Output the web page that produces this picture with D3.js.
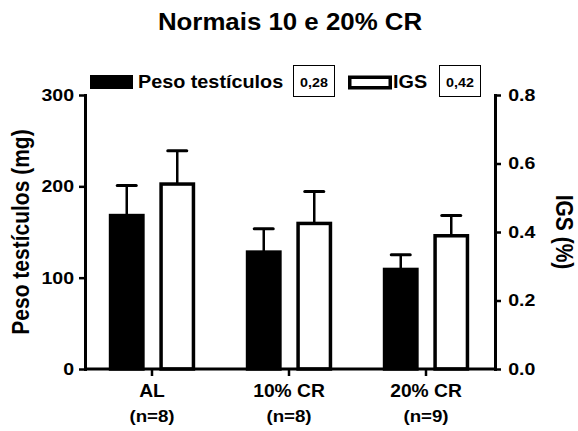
<!DOCTYPE html>
<html>
<head>
<meta charset="utf-8">
<script src="https://cdn.jsdelivr.net/npm/d3@7/dist/d3.min.js"></script>
<style>
  html, body { margin: 0; padding: 0; background: #fff; }
  svg { display: block; }
  text { font-family: "Liberation Sans", Arial, Helvetica, sans-serif; font-weight: bold; fill: #000; }
</style>
</head>
<body>
<script>
// Group data
const categories = ["AL", "10% CR", "20% CR"];
const sampleSizes = ["(n=8)", "(n=8)", "(n=9)"];
const pesoMean = [168, 128, 109];      // mg
const pesoSem = [33, 25.5, 16];
const igsMean = [0.54, 0.425, 0.389];  // %
const igsSem = [0.097, 0.093, 0.059];
const seriesNames = ["Peso testículos", "IGS"];
const seriesBoxes = ["0,28", "0,42"];
const leftTicks = [0, 100, 200, 300];
const rightTicks = [0, 0.2, 0.4, 0.6, 0.8];

const W = 578, H = 431;
const SX = 1.1; // glyphs are drawn slightly wide

const svg = d3.select("body").append("svg").attr("width", W).attr("height", H);

const plot = { left: 85, right: 495, top: 95, bottom: 369 };

const x0 = d3.scaleBand().domain(categories).range([83.5, 494.5]);
const x1 = d3.scaleBand().domain(["peso", "igs"]).range([-48, 48]).paddingInner(0.3).paddingOuter(0.1);
const yL = d3.scaleLinear().domain([0, 300]).range([plot.bottom, plot.top]);
const yR = d3.scaleLinear().domain([0, 0.8]).range([plot.bottom, plot.top]);

// Text helper with horizontal widening
function label(g, str, x, y, size, anchor, rot) {
  return g.append("text")
    .attr("transform", `translate(${x},${y}) scale(${SX},1)` + (rot ? ` rotate(${rot})` : ""))
    .attr("text-anchor", anchor || "middle")
    .style("font-size", size + "px")
    .text(str);
}

// Title
label(svg, "Normais 10 e 20% CR", 290, 30, 23.5, "middle");

// Bars
const rows = categories.map((c, i) => ({
  cat: c,
  bars: [
    { key: "peso", v: pesoMean[i], e: pesoSem[i], y: yL, fill: "#000" },
    { key: "igs", v: igsMean[i], e: igsSem[i], y: yR, fill: "#fff" }
  ]
}));

const bw = x1.bandwidth();
const groups = svg.append("g").selectAll("g").data(rows).join("g")
  .attr("transform", d => `translate(${x0(d.cat) + x0.bandwidth() / 2},0)`);

// error bars (upper only)
groups.selectAll("line.err").data(d => d.bars).join("line")
  .attr("class", "err")
  .attr("x1", d => x1(d.key) + bw / 2).attr("x2", d => x1(d.key) + bw / 2)
  .attr("y1", d => d.y(d.v)).attr("y2", d => d.y(d.v + d.e))
  .attr("stroke", "#000").attr("stroke-width", 2.5);
groups.selectAll("line.cap").data(d => d.bars).join("line")
  .attr("class", "cap")
  .attr("x1", d => x1(d.key) + bw / 2 - 9.5).attr("x2", d => x1(d.key) + bw / 2 + 9.5)
  .attr("y1", d => d.y(d.v + d.e)).attr("y2", d => d.y(d.v + d.e))
  .attr("stroke", "#000").attr("stroke-width", 3).attr("stroke-linecap", "round");

groups.selectAll("rect").data(d => d.bars).join("rect")
  .attr("x", d => x1(d.key) + 1.5)
  .attr("width", bw - 3)
  .attr("y", d => d.y(d.v))
  .attr("height", d => d.y(0) - d.y(d.v))
  .attr("fill", d => d.fill)
  .attr("stroke", "#000").attr("stroke-width", 3.5);

// Axes
function styleAxis(g) {
  g.select(".domain").attr("stroke", "#000").attr("stroke-width", 3).attr("stroke-linecap", "square");
  g.selectAll(".tick line").attr("stroke", "#000").attr("stroke-width", 2.5);
  g.selectAll(".tick text").style("font-size", "17px").attr("fill", "#000")
    .attr("transform", "scale(1.15,1)");
}

const gL = svg.append("g").attr("transform", `translate(${plot.left},0)`)
  .call(d3.axisLeft(yL).tickValues(leftTicks).tickSize(6).tickSizeOuter(0).tickPadding(3.5).tickFormat(d3.format("d")));
styleAxis(gL);

const gR = svg.append("g").attr("transform", `translate(${plot.right},0)`)
  .call(d3.axisRight(yR).tickValues(rightTicks).tickSize(6).tickSizeOuter(0).tickPadding(5.5).tickFormat(d3.format(".1f")));
styleAxis(gR);

// X axis baseline and ticks
const gX = svg.append("g").attr("transform", `translate(0,${plot.bottom})`);
gX.append("line").attr("x1", plot.left).attr("x2", plot.right).attr("y1", 0).attr("y2", 0)
  .attr("stroke", "#000").attr("stroke-width", 3);
gX.selectAll("line.tk").data(categories).join("line").attr("class", "tk")
  .attr("x1", d => x0(d) + x0.bandwidth() / 2).attr("x2", d => x0(d) + x0.bandwidth() / 2)
  .attr("y1", 0).attr("y2", 7).attr("stroke", "#000").attr("stroke-width", 2.5);
categories.forEach((c, i) => {
  const cx = x0(c) + x0.bandwidth() / 2;
  label(svg, c, cx, 397, 17.5, "middle");
  label(svg, sampleSizes[i], cx, 422, 17, "middle");
});

// Axis titles
label(svg, "Peso testículos (mg)", 29, 232, 21, "middle", -90);
label(svg, "IGS (%)", 556, 232, 21, "middle", 90);

// Legend
const lg = svg.append("g");
lg.append("rect").attr("x", 91).attr("y", 76).attr("width", 41).attr("height", 12)
  .attr("fill", "#000").attr("stroke", "#000").attr("stroke-width", 2);
label(lg, seriesNames[0], 138, 88, 18, "start");
lg.append("rect").attr("x", 293.5).attr("y", 65.5).attr("width", 41).attr("height", 31)
  .attr("fill", "#fff").attr("stroke", "#000").attr("stroke-width", 1);
label(lg, seriesBoxes[0], 314, 87, 13, "middle");

lg.append("rect").attr("x", 349.75).attr("y", 77.25).attr("width", 40.5).attr("height", 10.5)
  .attr("fill", "#fff").attr("stroke", "#000").attr("stroke-width", 3.5);
label(lg, seriesNames[1], 393, 88, 18, "start");
lg.append("rect").attr("x", 439.5).attr("y", 65.5).attr("width", 41).attr("height", 31)
  .attr("fill", "#fff").attr("stroke", "#000").attr("stroke-width", 1);
label(lg, seriesBoxes[1], 460, 87, 13, "middle");
</script>
</body>
</html>
